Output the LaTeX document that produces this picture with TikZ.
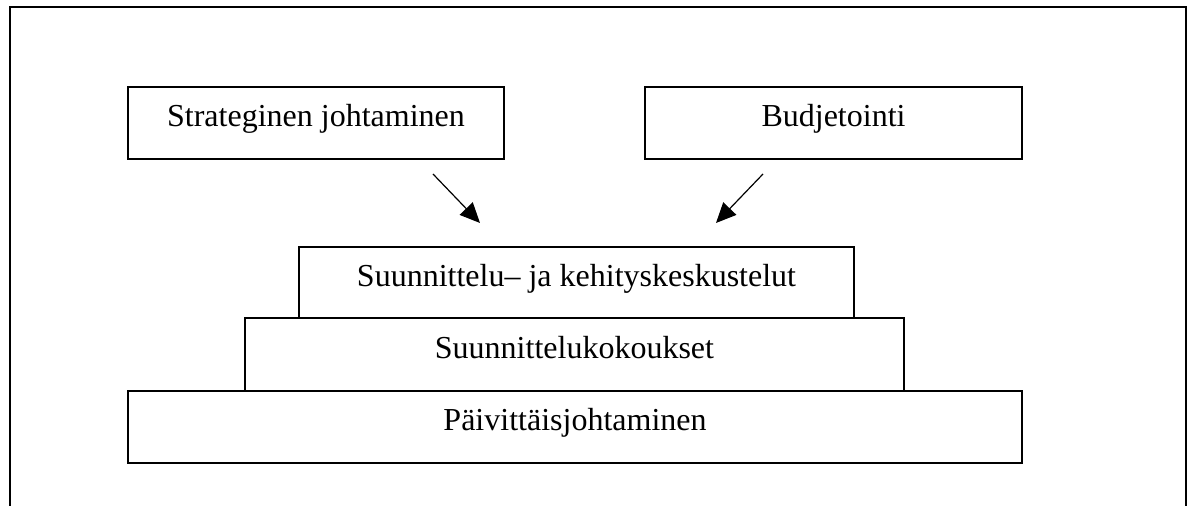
\documentclass[tikz,border=0pt]{standalone}
\usepackage{fontspec}
\setmainfont{Liberation Serif}
\usetikzlibrary{arrows.meta}

\begin{document}
\begin{tikzpicture}[x=0.5pt,y=-0.5pt,
  levelbox/.style={draw,line width=0.6pt,rectangle,inner sep=0pt,
    text height=11pt,text depth=7pt,font=\fontsize{16}{19}\selectfont},
  flowarrow/.style={line width=0.6pt,-{Triangle[length=10pt,width=9pt]}}]

\useasboundingbox (0,0) rectangle (1193,506);

% outer frame, open at the bottom
\draw[line width=0.7pt] (10,506) -- (10,7) -- (1186,7) -- (1186,506);

% top boxes
\node[levelbox,minimum width=188pt,minimum height=36pt] (strat) at (316,123) {Strateginen johtaminen};
\node[levelbox,minimum width=188.5pt,minimum height=36pt] (budj) at (833.5,123) {Budjetointi};

% stacked levels
\node[levelbox,minimum width=277.5pt,minimum height=35.5pt] (keskustelut) at (576.5,282.5) {Suunnittelu– ja kehityskeskustelut};
\node[levelbox,minimum width=329.5pt,minimum height=36.5pt] (kokoukset) at (574.5,354.5) {Suunnittelukokoukset};
\node[levelbox,minimum width=447pt,minimum height=36pt] (paivittainen) at (575,427) {Päivittäisjohtaminen};

% arrows
\coordinate (stratarr) at (433,174);
\coordinate (stratend) at (480,223);
\coordinate (budjarr) at (763,174);
\coordinate (budjend) at (716,223);
\draw[flowarrow] (stratarr) -- (stratend);
\draw[flowarrow] (budjarr) -- (budjend);

\end{tikzpicture}
\end{document}
